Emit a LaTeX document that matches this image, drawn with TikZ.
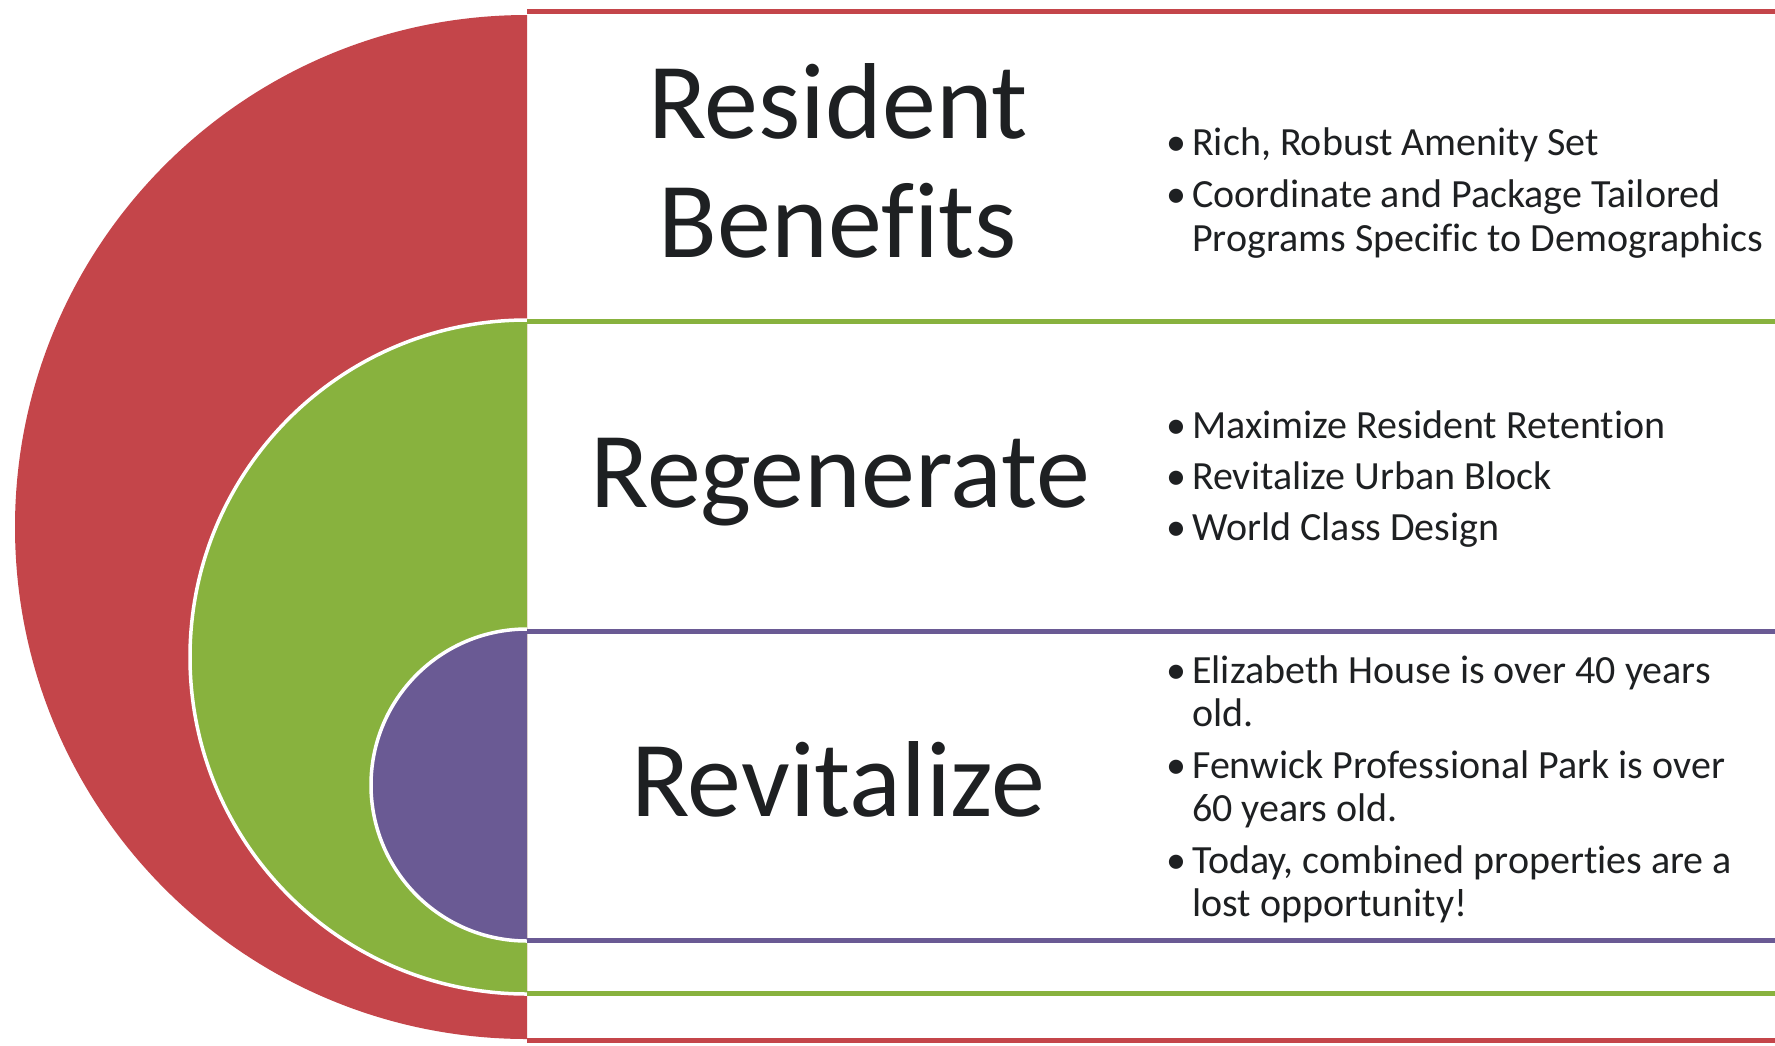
\documentclass[tikz,border=0pt]{standalone}
\usepackage{fontspec}
\newfontfamily\carl[RawFeature={-liga;-clig;-dlig;-calt}]{Carlito}
\definecolor{redc}{HTML}{C4454A}
\definecolor{greenc}{HTML}{88B23E}
\definecolor{purplec}{HTML}{6A5A94}
\definecolor{txt}{HTML}{1E2022}
\begin{document}
\begin{tikzpicture}[x=1pt,y=-1pt,
  titletext/.style={font=\carl\fontsize{108}{128}\selectfont, text=txt, anchor=base, inner sep=0},
  itemtext/.style={font=\carl\fontsize{40}{48}\selectfont, text=txt, anchor=base west, inner sep=0},
  bandline/.style={line width=5pt},
  rim/.style={draw=white, line width=3.5pt}]
\useasboundingbox (0,0) rectangle (1775,1045);
\fill[white] (0,0) rectangle (1775,1045);
% half discs
\fill[redc] (527,15) arc[start angle=270, end angle=90, radius=512] -- cycle;
\fill[greenc] (527,320) arc[start angle=270, end angle=90, radius=337] -- cycle;
\draw[rim] (527,320) arc[start angle=270, end angle=90, radius=337];
\fill[purplec] (527,629) arc[start angle=270, end angle=90, radius=156] -- cycle;
\draw[rim] (527,629) arc[start angle=270, end angle=90, radius=156];
% band lines
\draw[bandline, redc] (527,11) -- (1775,11);
\draw[bandline, greenc] (527,321) -- (1775,321);
\draw[bandline, purplec] (527,631) -- (1775,631);
\draw[bandline, purplec] (527,940) -- (1775,940);
\draw[bandline, greenc] (527,993) -- (1775,993);
\draw[bandline, redc] (527,1040) -- (1775,1040);
% titles
\node[titletext] (t1a) at (838,138) {Resident};
\node[titletext] (t1b) at (838,257) {Benefits};
\node[titletext] (t2) at (840,507) {Regenerate};
\node[titletext] (t3) at (838,816) {Revitalize};
% bullets
\foreach \y in {155,207,438,489,540,683,778,873}
  \node[itemtext] at (1166,\y) {•};
\node[itemtext] (a1) at (1192,155) {Rich, Robust Amenity Set};
\node[itemtext] (a2) at (1192,207) {Coordinate and Package Tailored};
\node[itemtext] (a3) at (1192,251) {Programs Specific to Demographics};
\node[itemtext] (b1) at (1192,438) {Maximize Resident Retention};
\node[itemtext] (b2) at (1192,489) {Revitalize Urban Block};
\node[itemtext] (b3) at (1192,540) {World Class Design};
\node[itemtext] (c1) at (1192,683) {Elizabeth House is over 40 years};
\node[itemtext] (c2) at (1192,726) {old.};
\node[itemtext] (c3) at (1192,778) {Fenwick Professional Park is over};
\node[itemtext] (c4) at (1192,821) {60 years old.};
\node[itemtext] (c5) at (1192,873) {Today, combined properties are a};
\node[itemtext] (c6) at (1192,916) {lost opportunity!};
\end{tikzpicture}
\end{document}
